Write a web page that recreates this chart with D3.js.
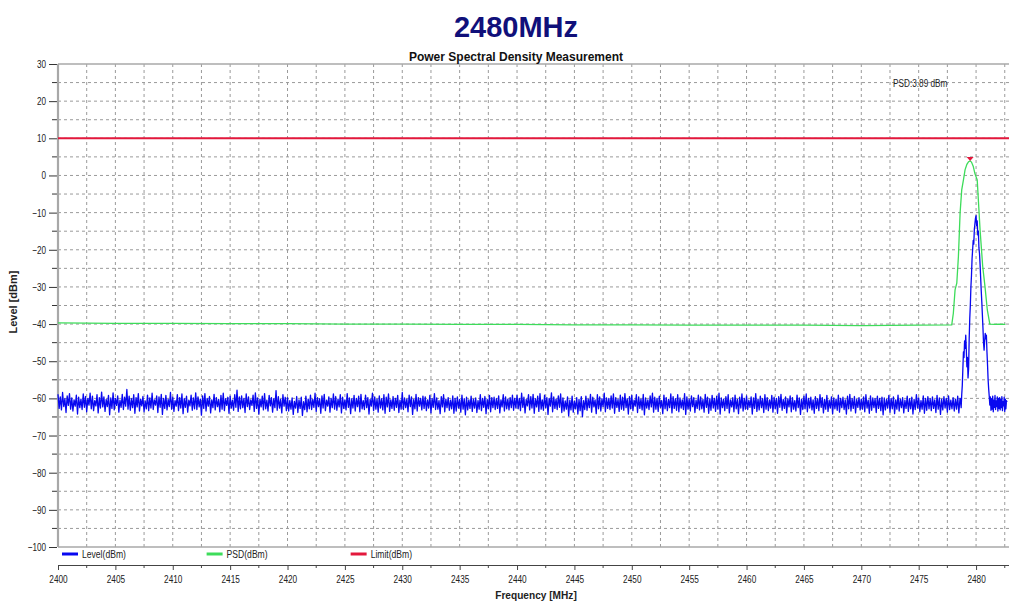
<!DOCTYPE html>
<html><head><meta charset="utf-8">
<script src="https://cdn.jsdelivr.net/npm/d3@7"></script>
<style>body{margin:0;background:#fff}svg{display:block}</style>
</head><body><svg id="c" width="1009" height="604"></svg>
<script>
// ---------- DATA ----------
const title = "2480MHz";
const subtitle = "Power Spectral Density Measurement";
const xTitle = "Frequency [MHz]";
const yTitle = "Level [dBm]";
const seriesNames = ["Level(dBm)", "PSD(dBm)", "Limit(dBm)"];
const xTicks = [2400,2405,2410,2415,2420,2425,2430,2435,2440,2445,2450,2455,2460,2465,2470,2475,2480];
const yTicks = [30,20,10,0,-10,-20,-30,-40,-50,-60,-70,-80,-90,-100];

// Level trace, noise floor sampled every 0.1 MHz: part A from 2400 MHz, part B from 2440 MHz
const noiseStartA = 2400, noiseStartB = 2440, noiseStep = 0.1;
const levelNoiseA = [
-58.9,-62.7,-59.6,-63.1,-58.4,-62.2,-60.1,-63.8,-59.3,-61.9,-58.7,-62.9,-59.9,-63.4,-60.4,-62.1,-59.1,-64.2,-59.7,-62.5,
-60.2,-63.0,-58.8,-62.4,-59.5,-63.6,-60.0,-61.8,-58.6,-62.8,-59.4,-63.3,-60.6,-62.0,-59.0,-63.9,-59.8,-62.6,-58.3,-62.3,
-59.6,-63.5,-60.3,-62.2,-59.2,-64.4,-59.9,-62.7,-58.5,-63.1,-60.0,-61.9,-59.3,-63.7,-60.5,-62.4,-58.9,-63.0,-59.7,-62.1,
-57.6,-62.9,-59.4,-63.2,-60.1,-62.5,-59.0,-64.0,-59.8,-62.3,-58.7,-63.4,-60.2,-62.0,-59.5,-63.6,-60.7,-62.8,-59.1,-63.3,
-59.9,-62.6,-58.6,-63.0,-60.4,-61.8,-59.3,-63.8,-59.6,-62.4,-58.9,-64.3,-60.0,-62.7,-59.2,-63.1,-60.3,-62.2,-58.4,-62.9,
-59.7,-63.5,-60.6,-62.1,-59.0,-63.3,-59.8,-62.6,-58.8,-64.1,-60.1,-62.4,-59.4,-63.7,-60.5,-62.0,-59.1,-63.2,-59.9,-62.8,
-58.5,-63.0,-59.6,-62.3,-60.2,-64.5,-59.3,-62.7,-58.7,-63.4,-60.0,-62.1,-59.5,-63.9,-60.4,-62.5,-58.9,-63.1,-59.8,-62.2,
-60.3,-63.6,-59.2,-62.9,-58.6,-63.3,-60.1,-61.9,-59.7,-64.0,-59.4,-62.6,-60.5,-63.2,-59.0,-62.4,-57.8,-63.5,-59.6,-62.8,
-59.3,-62.5,-60.0,-63.8,-58.8,-62.2,-59.6,-63.0,-60.4,-61.9,-59.1,-63.5,-58.5,-62.7,-59.9,-64.2,-60.2,-62.3,-59.4,-63.1,
-58.7,-62.8,-60.5,-63.4,-59.2,-62.0,-59.8,-63.7,-60.1,-62.5,-57.9,-63.2,-59.5,-62.6,-60.3,-63.9,-59.0,-62.1,-59.7,-63.3,
-59.8,-63.4,-60.6,-62.9,-59.9,-64.3,-60.8,-62.6,-59.5,-63.8,-60.4,-62.7,-59.7,-64.6,-60.9,-63.0,-59.4,-63.6,-60.2,-62.8,
-59.1,-63.0,-60.3,-62.4,-58.6,-63.5,-59.8,-62.2,-60.1,-64.0,-59.3,-62.6,-58.9,-63.3,-60.5,-62.1,-59.6,-63.7,-60.0,-62.5,
-58.8,-62.9,-59.5,-63.2,-60.2,-62.3,-59.0,-63.9,-59.7,-62.7,-60.4,-63.1,-58.7,-62.4,-59.9,-64.1,-60.1,-62.6,-59.2,-63.4,
-60.0,-62.2,-59.4,-63.6,-58.9,-62.8,-60.6,-63.0,-59.1,-62.5,-59.8,-64.2,-60.3,-62.1,-58.6,-63.3,-59.6,-62.9,-60.2,-63.7,
-59.3,-62.6,-60.1,-63.1,-59.0,-64.0,-59.7,-62.3,-58.8,-63.5,-60.4,-62.7,-59.5,-63.2,-60.0,-62.4,-59.2,-63.8,-60.5,-62.9,
-58.4,-63.0,-59.9,-62.5,-60.2,-63.6,-59.1,-62.2,-59.6,-64.3,-60.3,-62.8,-58.9,-63.4,-59.8,-62.1,-60.0,-63.1,-59.4,-62.7,
-59.6,-63.3,-60.4,-62.6,-59.2,-63.9,-60.1,-62.4,-58.7,-63.0,-59.9,-62.9,-60.6,-64.1,-59.5,-62.3,-59.0,-63.6,-60.2,-62.5,
-59.8,-63.2,-60.5,-62.8,-59.3,-64.0,-60.0,-63.4,-59.6,-62.6,-60.3,-63.7,-59.1,-62.9,-60.1,-64.4,-59.7,-63.1,-60.4,-62.7,
-59.4,-63.5,-60.2,-62.6,-59.9,-63.8,-60.6,-62.9,-59.0,-63.3,-60.0,-62.4,-59.5,-64.1,-60.3,-62.8,-59.2,-63.6,-59.8,-62.5,
-59.7,-63.0,-60.1,-62.7,-59.3,-63.9,-60.4,-62.3,-59.0,-63.4,-59.6,-62.8,-60.2,-63.1,-59.8,-62.5,-59.1,-63.2,-60.0,-62.6
];
const levelNoiseB = [
-59.2,-62.8,-60.0,-63.3,-58.6,-62.4,-59.7,-63.9,-60.3,-62.0,-59.0,-63.1,-59.5,-62.6,-58.9,-64.0,-60.1,-62.3,-59.4,-63.5,
-58.7,-62.9,-60.4,-63.2,-59.1,-62.5,-59.8,-64.3,-60.0,-62.1,-58.5,-63.6,-59.6,-62.7,-60.2,-63.0,-59.3,-62.4,-58.8,-63.8,
-59.9,-63.4,-60.7,-62.9,-59.6,-64.7,-60.5,-63.1,-59.4,-63.7,-60.8,-62.8,-59.8,-64.2,-60.3,-63.3,-59.5,-64.9,-60.6,-63.0,
-59.4,-63.2,-60.2,-62.5,-58.9,-63.7,-59.7,-62.3,-60.4,-64.1,-59.0,-62.8,-59.6,-63.4,-60.1,-62.2,-58.6,-63.6,-59.9,-62.7,
-60.0,-63.0,-59.3,-62.6,-58.8,-64.0,-59.8,-62.4,-60.3,-63.5,-59.1,-62.9,-59.7,-63.2,-58.7,-62.5,-60.1,-64.2,-59.5,-62.8,
-59.2,-63.3,-60.5,-62.1,-59.0,-63.8,-59.6,-62.7,-60.2,-63.1,-58.9,-64.4,-59.9,-62.6,-60.4,-63.0,-59.3,-62.3,-58.6,-63.7,
-59.7,-62.9,-60.0,-63.5,-59.4,-62.4,-60.6,-64.1,-59.1,-62.8,-59.8,-63.3,-60.3,-62.5,-58.8,-63.9,-59.5,-62.7,-60.1,-63.2,
-59.0,-63.6,-59.9,-62.6,-60.4,-63.0,-58.7,-64.3,-59.6,-62.9,-60.2,-63.4,-59.3,-62.2,-59.8,-63.8,-60.5,-62.7,-59.1,-63.1,
-59.6,-62.8,-60.3,-63.7,-58.9,-62.4,-59.7,-64.0,-60.1,-63.2,-59.2,-62.6,-60.0,-63.5,-59.4,-62.9,-58.6,-64.2,-59.9,-62.5,
-60.2,-63.3,-59.5,-62.7,-59.0,-63.9,-60.4,-62.3,-59.8,-63.6,-59.1,-62.8,-60.3,-64.1,-59.7,-62.6,-58.8,-63.4,-60.0,-62.9,
-59.3,-63.0,-60.5,-62.4,-59.6,-64.2,-59.9,-62.7,-58.7,-63.5,-60.2,-63.1,-59.4,-62.5,-60.1,-63.8,-59.0,-62.9,-59.8,-63.3,
-60.4,-62.6,-59.2,-63.7,-59.7,-62.8,-60.0,-64.0,-59.5,-62.4,-58.9,-63.2,-60.3,-62.7,-59.6,-63.9,-60.1,-62.3,-59.3,-63.6,
-59.8,-62.9,-60.6,-63.4,-59.1,-62.5,-59.9,-64.3,-60.2,-63.0,-59.4,-62.8,-58.8,-63.6,-60.0,-62.6,-59.7,-63.1,-60.4,-64.0,
-59.5,-62.7,-60.1,-63.3,-59.0,-62.4,-59.8,-63.9,-60.3,-62.9,-59.2,-63.5,-60.5,-62.6,-59.6,-64.1,-59.9,-62.8,-60.2,-63.2,
-59.1,-63.7,-60.0,-62.5,-59.7,-63.0,-60.4,-64.2,-59.4,-62.8,-58.9,-63.4,-60.1,-62.7,-59.5,-63.9,-60.3,-62.4,-59.8,-63.1,
-60.2,-62.9,-59.6,-63.6,-59.0,-62.6,-60.5,-64.0,-59.3,-63.2,-59.9,-62.5,-60.1,-63.8,-59.4,-62.7,-60.0,-63.3,-59.7,-64.4,
-59.9,-63.1,-60.3,-62.6,-59.2,-63.7,-60.0,-62.8,-59.6,-64.1,-60.4,-62.9,-59.1,-63.4,-60.2,-62.5,-59.8,-63.9,-60.5,-62.7,
-59.4,-63.5,-60.1,-62.8,-59.7,-64.2,-60.3,-63.0,-59.0,-62.6,-59.9,-63.6,-60.6,-62.9,-59.3,-64.0,-60.0,-63.2,-59.5,-62.8,
-60.1,-63.3,-59.6,-62.7,-60.4,-63.8,-59.2,-62.9,-59.9,-64.3,-60.2,-63.1,-59.5,-62.6,-60.0,-63.7,-59.3,-63.0,-60.5,-62.8,
-59.8,-63.4,-60.2,-62.9,-59.4,-63.9,-60.0,-62.7,-59.7,-64.0,-60.3,-63.2,-59.1,-62.8,-59.9,-63.6,-60.4,-62.9,-59.6,-63.1
];
// Level trace: signal region and upper noise tail
const peakFreq = [2478.65,2478.7,2478.75,2478.8,2478.85,2478.9,2478.95,2479.0,2479.05,2479.1,2479.15,2479.2,2479.25,2479.3,2479.35,2479.4,2479.45,2479.5,2479.55,2479.6,2479.65,2479.7,2479.75,2479.8,2479.85,2479.9,2479.95,2480.0,2480.05,2480.1,2480.15,2480.2,2480.25,2480.3,2480.35,2480.4,2480.45,2480.5,2480.55,2480.6,2480.65,2480.7,2480.75,2480.8,2480.85,2480.9,2480.95,2481.0,2481.05,2481.1,2481.15,2481.2,2481.25,2481.3,2481.35,2481.4,2481.45,2481.5,2481.55,2481.6,2481.65,2481.7,2481.75,2481.8,2481.85,2481.9,2481.95,2482.0,2482.05,2482.1,2482.15,2482.2,2482.25,2482.3,2482.35,2482.4,2482.45,2482.5,2482.55,2482.6,2482.65,2482.7];
const peakLevel = [-60.2,-62.5,-59.0,-56.5,-52.0,-47.5,-49.0,-44.5,-46.5,-43.0,-47.0,-51.5,-49.0,-54.5,-52.0,-44.0,-38.5,-35.0,-30.0,-27.0,-22.5,-20.0,-17.5,-18.5,-14.5,-13.0,-11.5,-10.8,-13.5,-12.2,-16.0,-15.0,-19.5,-21.0,-24.0,-27.5,-31.0,-34.0,-37.5,-41.0,-45.0,-47.0,-44.5,-42.5,-44.0,-43.0,-47.5,-51.0,-55.0,-57.5,-59.5,-61.8,-59.6,-63.2,-60.1,-62.9,-59.4,-63.6,-60.5,-62.4,-59.2,-63.0,-60.7,-62.2,-59.6,-63.4,-60.0,-62.7,-59.8,-63.1,-60.3,-62.5,-59.5,-63.3,-60.9,-62.0,-59.7,-63.5,-60.2,-62.8,-60.6,-61.0];

// PSD trace
const psdFreq = [2400,2405,2410,2415,2420,2425,2430,2435,2440,2445,2450,2455,2460,2465,2470,2475,2477.88,2478.02,2478.17,2478.32,2478.46,2478.61,2478.75,2478.9,2479.04,2479.2,2479.35,2479.48,2479.6,2479.75,2479.9,2480.1,2480.35,2480.58,2480.78,2480.98,2481.2,2481.6,2482.0,2482.55];
const psdLevel = [-39.7,-39.8,-39.8,-39.9,-39.9,-40.0,-40.0,-40.1,-40.1,-40.2,-40.2,-40.3,-40.3,-40.3,-40.4,-40.3,-40.2,-37.1,-30.8,-29.0,-21.9,-10.0,-3.9,-1.2,1.5,3.0,3.7,3.89,3.6,2.5,0.5,-1.2,-14.7,-24.5,-30.0,-36.2,-40.0,-40.1,-40.0,-40.1];

const limitLevel = 10;
const psdMarkerFreq = 2479.48, psdMarkerValue = 3.89, psdMarkerLabel = "PSD:3.89 dBm";

// ---------- DRAW ----------
const colors = {level: "#0808f0", psd: "#3ddc5a", limit: "#e3183c", grid: "#9a9a9a", frame: "#a8a8a8", axis: "#444"};
const sans = "'Liberation Sans',Arial,Helvetica,sans-serif";

const svg = d3.select("#c");
svg.append("rect").attr("width",1009).attr("height",604).attr("fill","#fff");

const x = d3.scaleLinear().domain([2400, 2482.87]).range([58, 1009]);
const y = d3.scaleLinear().domain([-100, 30]).range([547, 64]);
const [x0, x1] = x.range();
const [yb, yt] = y.range();

// condense text horizontally (reference uses a narrow face)
function condense(sel, k) {
  sel.each(function(){
    const len = this.getComputedTextLength();
    d3.select(this).attr("textLength", (len*k).toFixed(2)).attr("lengthAdjust","spacingAndGlyphs");
  });
}

// grid
const g = svg.append("g");
const vGrid = d3.range(2402.5, 2482.87, 2.5);
g.selectAll(".vg").data(vGrid).join("line")
  .attr("x1", d=>x(d)).attr("x2", d=>x(d)).attr("y1", yt).attr("y2", yb)
  .attr("stroke", colors.grid).attr("stroke-width",1).attr("stroke-dasharray","3,3");
const hGrid = d3.range(-95, 30, 5);
g.selectAll(".hg").data(hGrid).join("line")
  .attr("x1", x0).attr("x2", x1).attr("y1", d=>y(d)).attr("y2", d=>y(d))
  .attr("stroke", colors.grid).attr("stroke-width",1).attr("stroke-dasharray","3,3");

// frame
svg.append("line").attr("x1",x0).attr("x2",x1).attr("y1",yt).attr("y2",yt).attr("stroke",colors.frame).attr("stroke-width",1.5);
svg.append("line").attr("x1",x0).attr("x2",x1).attr("y1",yb).attr("y2",yb).attr("stroke",colors.frame).attr("stroke-width",1.5);

// y axis
const yAxis = svg.append("g").attr("transform",`translate(${x0-1},0)`)
  .call(d3.axisLeft(y).tickValues(yTicks).tickSize(8).tickPadding(3).tickFormat(d3.format("d")));
yAxis.select(".domain").remove();
yAxis.selectAll(".tick line").attr("stroke","#333");
yAxis.selectAll("text").attr("font-family",sans).attr("font-size","11px").attr("fill","#222").call(condense, 0.74);
const yMinor = d3.range(-95, 30, 10);
svg.append("g").selectAll("line").data(yMinor).join("line")
  .attr("x1",x0-6).attr("x2",x0).attr("y1",d=>y(d)).attr("y2",d=>y(d)).attr("stroke","#333");
svg.append("line").attr("x1",x0).attr("x2",x0).attr("y1",yt).attr("y2",yb).attr("stroke",colors.frame).attr("stroke-width",2.2);

// x axis (below legend)
const xAxisY = 565;
const xAxis = svg.append("g").attr("transform",`translate(0,${xAxisY})`)
  .call(d3.axisBottom(x).tickValues(xTicks).tickSize(5).tickSizeOuter(0).tickPadding(5).tickFormat(d3.format("d")));
xAxis.select(".domain").attr("stroke",colors.axis).attr("stroke-width",1.2);
xAxis.selectAll(".tick line").attr("stroke",colors.axis);
xAxis.selectAll("text").attr("font-family",sans).attr("font-size","11px").attr("fill","#222").call(condense, 0.75);
const xMinor = d3.range(2402.5, 2482.87, 5);
svg.append("g").selectAll("line").data(xMinor).join("line")
  .attr("x1",d=>x(d)).attr("x2",d=>x(d)).attr("y1",xAxisY).attr("y2",xAxisY+3).attr("stroke",colors.axis);

// series
const noiseA = levelNoiseA.map((v,i)=>({f: noiseStartA + i*noiseStep, v}));
const noiseB = levelNoiseB.map((v,i)=>({f: noiseStartB + i*noiseStep, v}));
const levelData = noiseA.concat(noiseB)
  .filter(d => d.f < peakFreq[0] - 1e-9)
  .sort((a,b)=>a.f-b.f)
  .concat(peakFreq.map((f,i)=>({f, v: peakLevel[i]})));
const psdData = psdFreq.map((f,i)=>({f, v: psdLevel[i]}));
const line = d3.line().x(d=>x(d.f)).y(d=>y(d.v));

svg.append("path").datum(psdData).attr("d",line).attr("fill","none")
  .attr("stroke",colors.psd).attr("stroke-width",1.3);
svg.append("path").datum(levelData).attr("d",line).attr("fill","none")
  .attr("stroke",colors.level).attr("stroke-width",1.3).attr("stroke-linejoin","round");
svg.append("line").attr("x1",x0).attr("x2",x1).attr("y1",y(limitLevel)).attr("y2",y(limitLevel))
  .attr("stroke",colors.limit).attr("stroke-width",2);

// PSD marker
const mx = x(psdMarkerFreq), my = y(psdMarkerValue);
svg.append("path").attr("d",`M${mx-3.5},${my-4}L${mx+3.5},${my-4}L${mx},${my}Z`).attr("fill",colors.limit);
svg.append("text").attr("x",x(2472.77)).attr("y",y(23.9)).text(psdMarkerLabel)
  .attr("font-family",sans).attr("font-size","10px").attr("fill","#222").call(condense, 0.82);

// legend
const legendY = 554;
const legendX = [x(2400.35), x(2412.95), x(2425.5)];
const legendColors = [colors.level, colors.psd, colors.limit];
const lg = svg.append("g");
seriesNames.forEach((n,i)=>{
  lg.append("line").attr("x1",legendX[i]).attr("x2",legendX[i]+16).attr("y1",legendY).attr("y2",legendY)
    .attr("stroke",legendColors[i]).attr("stroke-width",3);
  lg.append("text").attr("x",legendX[i]+20).attr("y",legendY+3.5).text(n)
    .attr("font-family",sans).attr("font-size","11px").attr("fill","#222").call(condense, 0.78);
});

// titles
svg.append("text").attr("x",516).attr("y",37).attr("text-anchor","middle").text(title)
  .attr("font-family",sans).attr("font-weight","bold").attr("font-size","29px").attr("fill","#10107a");
svg.append("text").attr("x",516).attr("y",60.5).attr("text-anchor","middle").text(subtitle)
  .attr("font-family",sans).attr("font-weight","bold").attr("font-size","12px").attr("fill","#111");
svg.append("text").attr("x",536).attr("y",599).attr("text-anchor","middle").text(xTitle)
  .attr("font-family",sans).attr("font-weight","bold").attr("font-size","11px").attr("fill","#222").call(condense, 0.92);
svg.append("text").attr("transform","translate(17,302) rotate(-90)").attr("text-anchor","middle").text(yTitle)
  .attr("font-family",sans).attr("font-weight","bold").attr("font-size","11px").attr("fill","#222");
</script></body></html>
